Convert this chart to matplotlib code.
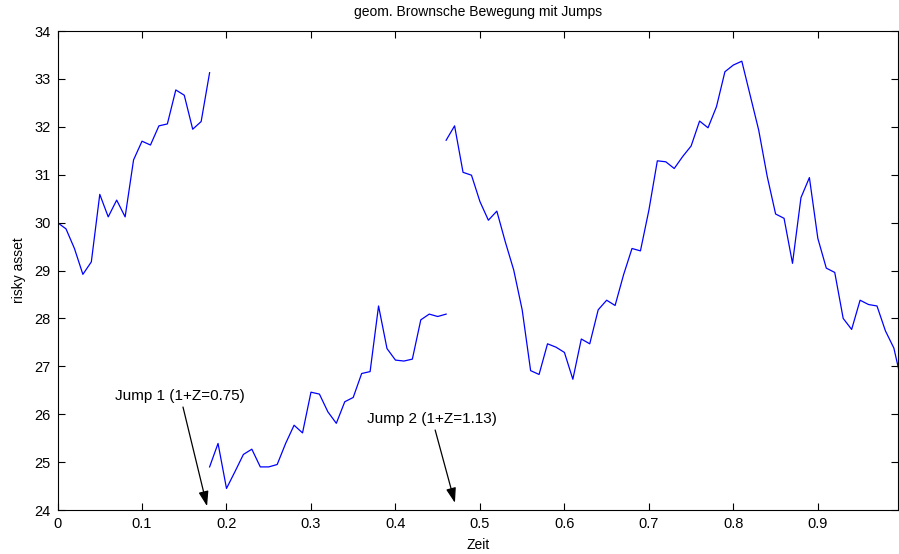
import numpy as np
import matplotlib
matplotlib.use("Agg")
import matplotlib.pyplot as plt

plt.rcParams['font.family'] = ['Liberation Sans', 'DejaVu Sans']

# Zeitpunkte (Schrittweite 0.01) und Werte der drei Abschnitte
t1 = np.round(np.arange(0, 19) * 0.01, 2)          # 0.00 .. 0.18
s1 = [30.00, 29.87, 29.46, 28.92, 29.18, 30.59, 30.12, 30.47, 30.12, 31.31,
      31.70, 31.62, 32.02, 32.06, 32.77, 32.66, 31.95, 32.11, 33.13]

t2 = np.round(np.arange(18, 47) * 0.01, 2)         # 0.18 .. 0.46
s2 = [24.90, 25.39, 24.45, 24.80, 25.16, 25.27, 24.90, 24.90, 24.95, 25.39,
      25.77, 25.61, 26.46, 26.42, 26.05, 25.81, 26.26, 26.35, 26.85, 26.89,
      28.26, 27.37, 27.13, 27.11, 27.15, 27.97, 28.09, 28.04, 28.09]

t3 = np.round(np.arange(46, 101) * 0.01, 2)        # 0.46 .. 1.00
s3 = [31.72, 32.02, 31.05, 30.99, 30.44, 30.05, 30.24, 29.60, 29.01, 28.18,
      26.91, 26.83, 27.47, 27.40, 27.29, 26.73, 27.57, 27.47, 28.18, 28.38,
      28.27, 28.91, 29.46, 29.41, 30.26, 31.29, 31.27, 31.13, 31.38, 31.60,
      32.12, 31.98, 32.42, 33.15, 33.29, 33.37, 32.65, 31.93, 30.97, 30.18,
      30.09, 29.15, 30.52, 30.94, 29.67, 29.05, 28.96, 28.00, 27.77, 28.38,
      28.29, 28.26, 27.74, 27.38, 26.60]

xticks = [0, 0.1, 0.2, 0.3, 0.4, 0.5, 0.6, 0.7, 0.8, 0.9]
yticks = list(range(24, 35))

fig = plt.figure(figsize=(8.99, 5.54), dpi=100)
ax = fig.add_axes([0.064, 0.0794, 0.935, 0.8646])

for t, s in [(t1, s1), (t2, s2), (t3, s3)]:
    ax.plot(t, s, color=(0, 0, 1), lw=0.9)

ax.set_xlim(0, 0.995)
ax.set_ylim(24, 34)
ax.set_xticks(xticks)
ax.set_xticklabels([f"{v:g}" for v in xticks])
ax.set_yticks(yticks)
ax.tick_params(direction='in', top=True, right=True, length=5, width=0.8,
               labelsize=10.5, pad=5)
for sp in ax.spines.values():
    sp.set_linewidth(0.8)

ax.set_title("geom. Brownsche Bewegung mit Jumps", fontsize=10, pad=11)
ax.set_xlabel("Zeit", fontsize=10, labelpad=5)
ax.set_ylabel("risky asset", fontsize=10, labelpad=6)

arrow = dict(arrowstyle='-|>,head_length=0.9,head_width=0.3', color='black',
             lw=0.9, shrinkA=0, shrinkB=0)
ax.text(0.145, 26.37, "Jump 1 (1+Z=0.75)", ha='center', va='center', fontsize=11)
ax.annotate("", xy=(0.177, 24.08), xytext=(0.1485, 26.15), arrowprops=arrow)
ax.text(0.443, 25.9, "Jump 2 (1+Z=1.13)", ha='center', va='center', fontsize=11)
ax.annotate("", xy=(0.4704, 24.15), xytext=(0.447, 25.67), arrowprops=arrow)

fig.savefig("out.png", dpi=100)
